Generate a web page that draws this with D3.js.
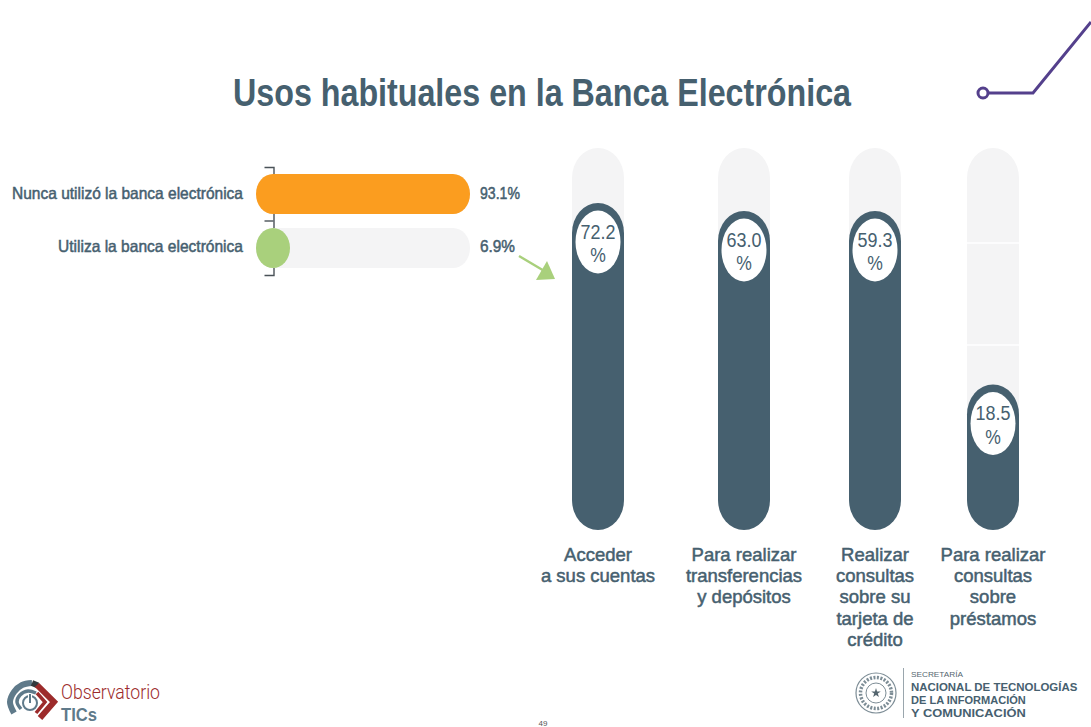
<!DOCTYPE html>
<html lang="es">
<head>
<meta charset="utf-8">
<title>Usos habituales en la Banca Electrónica</title>
<script src="https://cdn.jsdelivr.net/npm/d3@7/dist/d3.min.js"></script>
<style>
  html, body { margin: 0; padding: 0; background: #fff; overflow: hidden; }
  svg { display: block; }
  text { font-family: "Liberation Sans", Arial, sans-serif; }
  .medium { stroke: currentColor; stroke-width: 0.5; paint-order: stroke; }
</style>
</head>
<body>
<svg id="chart" width="1091" height="727"></svg>
<script>
// Chart content
const titleText = "Usos habituales en la Banca Electrónica";

const usageCategories = ["Nunca utilizó la banca electrónica", "Utiliza la banca electrónica"];
const usageValues = [93.1, 6.9];

const purposeCategories = [
  ["Acceder", "a sus cuentas"],
  ["Para realizar", "transferencias", "y depósitos"],
  ["Realizar", "consultas", "sobre su", "tarjeta de", "crédito"],
  ["Para realizar", "consultas", "sobre", "préstamos"]
];
const purposeValues = [72.2, 63.0, 59.3, 18.5];

const secretariatLines = ["NACIONAL DE TECNOLOGÍAS", "DE LA INFORMACIÓN", "Y COMUNICACIÓN"];

// Palette
const slate = "#46606f";
const track = "#f4f4f5";
const orange = "#fb9d1f";
const green = "#a9d07c";
const purple = "#54408c";
const crimson = "#9c2b2b";
const steel = "#5f7a8a";

const svg = d3.select("#chart").style("color", slate);

// Fits a line of text to a measured width
function fitted(sel, width) {
  return sel.attr("textLength", width).attr("lengthAdjust", "spacingAndGlyphs");
}

// Squeezes text horizontally by a factor of its natural width
function condensed(sel, factor) {
  return sel.each(function () {
    d3.select(this).call(fitted, this.getComputedTextLength() * factor);
  });
}

svg.append("text")
  .attr("x", 233).attr("y", 105.5)
  .attr("font-size", 38).attr("font-weight", 700).attr("fill", slate)
  .text(titleText)
  .call(fitted, 618);

// Circuit ornament, top right
const ornament = svg.append("g").attr("fill", "none").attr("stroke", purple).attr("stroke-width", 3);
ornament.append("circle").attr("cx", 983).attr("cy", 93).attr("r", 5);
ornament.append("path").attr("d", d3.line()([[988, 93], [1033, 93], [1091, 22]]));

// ---- Horizontal split: who uses electronic banking ----
const yUsage = d3.scaleBand().domain(usageCategories).range([167, 275]);
const xUsage = d3.scaleLinear().domain([0, 6.9, 93.1]).range([256, 290, 470]);
const usageBar = 40;
const usageBarY = d => yUsage(d) + (yUsage.bandwidth() - usageBar) / 2;
const usageColors = d3.scaleOrdinal(usageCategories, [orange, green]);

// Bracket axis running behind the bars
const usageAxis = d3.axisLeft(yUsage).tickValues([]).tickSizeOuter(9);
svg.append("g").attr("transform", "translate(273.5,0)").call(usageAxis)
  .call(g => g.select(".domain").attr("stroke", "#4a5258").attr("stroke-width", 1.4))
  .call(g => g.append("line")
    .attr("x1", -9).attr("x2", 0)
    .attr("y1", yUsage(usageCategories[1])).attr("y2", yUsage(usageCategories[1]))
    .attr("stroke", "#4a5258").attr("stroke-width", 1.4));

const usageRows = svg.append("g").selectAll("g")
  .data(usageCategories.map((c, i) => ({ c, v: usageValues[i] })))
  .join("g");

usageRows.append("rect")
  .attr("x", xUsage(0)).attr("y", d => usageBarY(d.c))
  .attr("width", xUsage(93.1) - xUsage(0)).attr("height", usageBar)
  .attr("rx", 17).attr("ry", 20)
  .attr("fill", track);

usageRows.append("rect")
  .attr("x", xUsage(0)).attr("y", d => usageBarY(d.c))
  .attr("width", d => xUsage(d.v) - xUsage(0)).attr("height", usageBar)
  .attr("rx", 17).attr("ry", 20)
  .attr("fill", d => usageColors(d.c));

const usageLabelWidths = [231, 185];
usageRows.append("text")
  .attr("class", "medium")
  .attr("x", 243).attr("y", (d, i) => yUsage(d.c) + yUsage.bandwidth() / 2 + 5 - i)
  .attr("text-anchor", "end")
  .attr("font-size", 16.5).attr("fill", slate)
  .text(d => d.c)
  .each(function (d, i) { d3.select(this).call(fitted, usageLabelWidths[i]); });

usageRows.append("text")
  .attr("class", "medium")
  .attr("x", 480).attr("y", (d, i) => yUsage(d.c) + yUsage.bandwidth() / 2 + 5 - i)
  .attr("font-size", 16.5).attr("fill", slate)
  .text(d => d.v.toFixed(1) + "%")
  .each(function (d, i) { d3.select(this).call(fitted, i ? 35 : 40); });

// Arrow leading from the users' share to the breakdown
svg.append("path")
  .attr("d", d3.line()([[519, 256], [546, 272]]))
  .attr("stroke", green).attr("stroke-width", 2.5).attr("fill", "none");
svg.append("path")
  .attr("d", d3.line()([[547, 261], [555, 279], [536, 280]]) + "Z")
  .attr("fill", green);

// ---- Vertical pills: what users do with it ----
const purposeKeys = purposeCategories.map(lines => lines.join(" "));
const xPurpose = d3.scaleOrdinal(purposeKeys, [598, 744, 875, 993]);
const yPurpose = d3.scaleLinear()
  .domain([0, 18.5, 59.3, 63, 72.2, 100])
  .range([530, 384.5, 211, 211, 203, 148]);
const pillWidth = 52;

const purposes = purposeKeys.map((key, i) => ({ key, lines: purposeCategories[i], v: purposeValues[i] }));
const columns = svg.append("g").selectAll("g")
  .data(purposes)
  .join("g")
  .attr("transform", d => `translate(${xPurpose(d.key)},0)`);

columns.append("rect")
  .attr("x", -pillWidth / 2).attr("width", pillWidth)
  .attr("y", yPurpose(100)).attr("height", yPurpose(0) - yPurpose(100))
  .attr("rx", 26).attr("ry", 30)
  .attr("fill", track);

columns.append("rect")
  .attr("x", -pillWidth / 2).attr("width", pillWidth)
  .attr("y", d => yPurpose(d.v)).attr("height", d => yPurpose(0) - yPurpose(d.v))
  .attr("rx", 26).attr("ry", 30)
  .attr("fill", slate);

// Faint segment seams in the last track
svg.append("g").attr("stroke", "#fff").attr("stroke-width", 1.5)
  .selectAll("line").data([243, 345]).join("line")
  .attr("x1", xPurpose(purposeKeys[3]) - 27).attr("x2", xPurpose(purposeKeys[3]) + 27)
  .attr("y1", d => d).attr("y2", d => d);

// Value bubble at the head of each pill
columns.append("ellipse")
  .attr("cx", 0).attr("cy", d => yPurpose(d.v) + 39)
  .attr("rx", 22.5).attr("ry", 31.5)
  .attr("fill", "#fff");

columns.append("text")
  .attr("text-anchor", "middle").attr("fill", slate).attr("font-size", 19.5)
  .attr("x", 0).attr("y", d => yPurpose(d.v) + 35.5)
  .text(d => d.v.toFixed(1))
  .call(condensed, 0.92);

columns.append("text")
  .attr("text-anchor", "middle").attr("fill", slate).attr("font-size", 19.5)
  .attr("x", 0).attr("y", d => yPurpose(d.v) + 59)
  .text("%")
  .call(condensed, 0.9);

columns.append("g")
  .selectAll("text").data(d => d.lines).join("text")
  .attr("class", "medium")
  .attr("text-anchor", "middle").attr("fill", slate).attr("font-size", 18.5)
  .attr("x", 0).attr("y", (d, i) => 560.5 + i * 21.4)
  .text(d => d);

// ---- Footer marks ----
const observatory = svg.append("g").attr("fill", "none");
const smooth = d3.line().curve(d3.curveCatmullRom);
observatory.append("path")
  .attr("d", smooth([[14, 713], [10, 702], [14, 692], [22, 685], [32, 683]]))
  .attr("stroke", steel).attr("stroke-width", 6);
observatory.append("path")
  .attr("d", smooth([[32, 683], [38, 685.5]]))
  .attr("stroke", "#33393d").attr("stroke-width", 6);
observatory.append("path")
  .attr("d", d3.line()([[37, 685], [54, 702], [40, 718]]))
  .attr("stroke", crimson).attr("stroke-width", 6);
observatory.append("path")
  .attr("d", smooth([[21, 709], [17, 702], [20, 695], [28, 691], [36, 693]]))
  .attr("stroke", steel).attr("stroke-width", 3.5);
observatory.append("path")
  .attr("d", d3.line()([[37, 693], [45, 702], [36, 713]]))
  .attr("stroke", crimson).attr("stroke-width", 3.5);
observatory.append("circle")
  .attr("cx", 30).attr("cy", 703).attr("r", 7)
  .attr("stroke", steel).attr("stroke-width", 2);
observatory.append("line")
  .attr("x1", 30).attr("x2", 30).attr("y1", 694).attr("y2", 703)
  .attr("stroke", "#fff").attr("stroke-width", 4);
observatory.append("line")
  .attr("x1", 30).attr("x2", 30).attr("y1", 694).attr("y2", 703)
  .attr("stroke", steel).attr("stroke-width", 2);
observatory.append("text")
  .attr("x", 61).attr("y", 698.5).attr("font-size", 20)
  .attr("fill", crimson).style("font-family", "Roboto, sans-serif").attr("font-weight", 300)
  .text("Observatorio").call(fitted, 99);
observatory.append("text")
  .attr("x", 61).attr("y", 721).attr("font-size", 18.5).attr("font-weight", 700).attr("fill", steel)
  .text("TICs").call(fitted, 36);

const secretariat = svg.append("g");
const seal = secretariat.append("g").attr("transform", "translate(876,693)")
  .attr("fill", "none").attr("stroke", "#7d8d96");
seal.append("circle").attr("r", 20).attr("stroke-width", 1.2);
seal.append("circle").attr("r", 15.5).attr("stroke-width", 3.5).attr("stroke-dasharray", "2 1.5");
seal.append("circle").attr("r", 10).attr("stroke-width", 1);
seal.append("path")
  .attr("d", d3.symbol(d3.symbolStar, 28)())
  .attr("fill", "#55666f").attr("stroke", "none");
secretariat.append("line")
  .attr("x1", 903.5).attr("x2", 903.5).attr("y1", 668).attr("y2", 718)
  .attr("stroke", "#9aa6ad");
secretariat.append("text")
  .attr("x", 911).attr("y", 677).attr("font-size", 8).attr("fill", "#55666f")
  .text("SECRETARÍA").call(fitted, 52);
const secretariatSqueeze = [0.995, 0.96, 1.12];
const secretariatBase = [690.5, 703.5, 716.5];
secretariat.selectAll(".line").data(secretariatLines).join("text")
  .attr("class", "line")
  .attr("transform", (d, i) => `translate(911,${secretariatBase[i]}) scale(${secretariatSqueeze[i]},1)`)
  .attr("font-size", 11.5).attr("font-weight", 700).attr("fill", slate)
  .text(d => d);

// Page number
svg.append("text")
  .attr("x", 543).attr("y", 726).attr("text-anchor", "middle")
  .attr("font-size", 8).attr("fill", "#555")
  .text("49");
</script>
</body>
</html>
